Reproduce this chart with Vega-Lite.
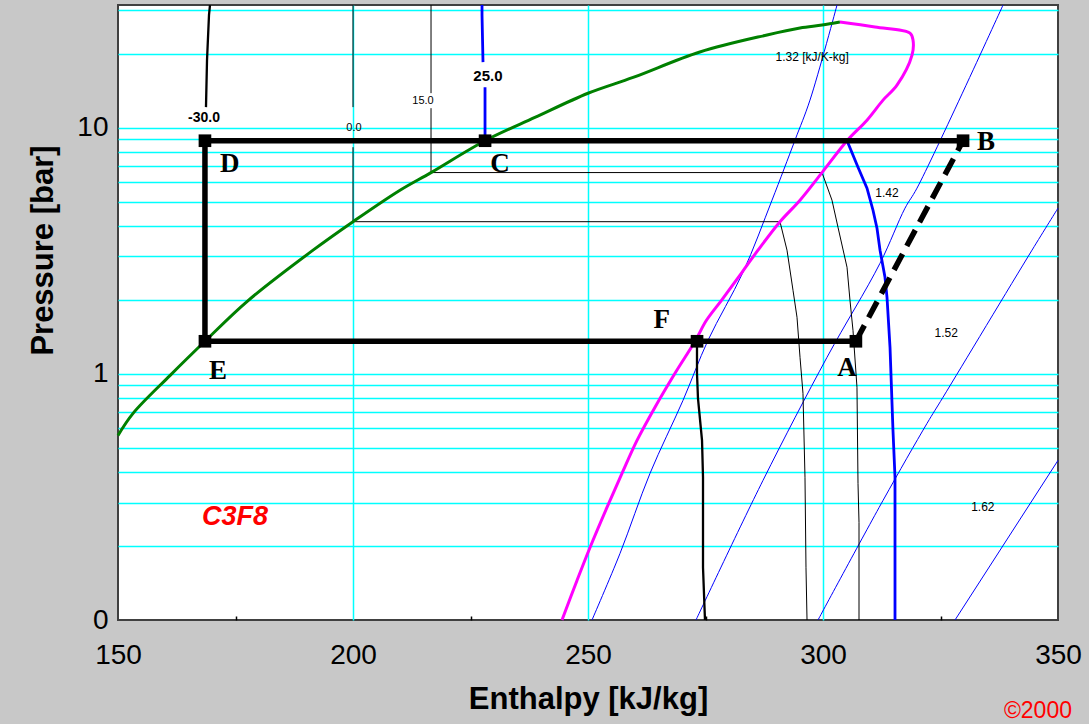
{
  "$schema": "https://vega.github.io/schema/vega-lite/v6.json",
  "width": 940,
  "height": 615,
  "autosize": {"type": "none"},
  "padding": {"left": 118, "top": 5, "right": 31, "bottom": 104},
  "background": "#c8c8c8",
  "config": {
    "view": {"fill": "white", "stroke": "#404040", "strokeWidth": 2},
    "font": "Liberation Sans"
  },
  "datasets": {
    "curves": [
      {"s": "sat_liq", "i": 0, "h": 150, "p": 0.562},
      {"s": "sat_liq", "i": 1, "h": 153.2, "p": 0.691},
      {"s": "sat_liq", "i": 2, "h": 161.1, "p": 0.986},
      {"s": "sat_liq", "i": 3, "h": 168.5, "p": 1.356},
      {"s": "sat_liq", "i": 4, "h": 177.5, "p": 1.971},
      {"s": "sat_liq", "i": 5, "h": 191.5, "p": 3.18},
      {"s": "sat_liq", "i": 6, "h": 200, "p": 4.15},
      {"s": "sat_liq", "i": 7, "h": 210, "p": 5.57},
      {"s": "sat_liq", "i": 8, "h": 216.6, "p": 6.57},
      {"s": "sat_liq", "i": 9, "h": 228.1, "p": 8.85},
      {"s": "sat_liq", "i": 10, "h": 238.7, "p": 11.0},
      {"s": "sat_liq", "i": 11, "h": 250, "p": 13.8},
      {"s": "sat_liq", "i": 12, "h": 259.6, "p": 16.0},
      {"s": "sat_liq", "i": 13, "h": 273.8, "p": 20.3},
      {"s": "sat_liq", "i": 14, "h": 288.1, "p": 23.8},
      {"s": "sat_liq", "i": 15, "h": 295.1, "p": 25.4},
      {"s": "sat_liq", "i": 16, "h": 299.8, "p": 26.1},
      {"s": "sat_liq", "i": 17, "h": 303.6, "p": 26.85},

      {"s": "sat_vap", "i": 0, "h": 303.6, "p": 26.85},
      {"s": "sat_vap", "i": 1, "h": 311.06, "p": 25.62},
      {"s": "sat_vap", "i": 2, "h": 318.51, "p": 24.22},
      {"s": "sat_vap", "i": 3, "h": 319.15, "p": 22.68},
      {"s": "sat_vap", "i": 4, "h": 318.94, "p": 19.71},
      {"s": "sat_vap", "i": 5, "h": 315.74, "p": 14.89},
      {"s": "sat_vap", "i": 6, "h": 312.77, "p": 12.94},
      {"s": "sat_vap", "i": 7, "h": 309.36, "p": 10.73},
      {"s": "sat_vap", "i": 8, "h": 305.11, "p": 8.85},
      {"s": "sat_vap", "i": 9, "h": 299.79, "p": 6.57},
      {"s": "sat_vap", "i": 10, "h": 295.11, "p": 5.075},
      {"s": "sat_vap", "i": 11, "h": 290.85, "p": 4.15},
      {"s": "sat_vap", "i": 12, "h": 286.17, "p": 3.18},
      {"s": "sat_vap", "i": 13, "h": 282.77, "p": 2.586},
      {"s": "sat_vap", "i": 14, "h": 278.4, "p": 1.99},
      {"s": "sat_vap", "i": 15, "h": 275.2, "p": 1.65},
      {"s": "sat_vap", "i": 16, "h": 272.77, "p": 1.356},
      {"s": "sat_vap", "i": 17, "h": 268.51, "p": 1.005},
      {"s": "sat_vap", "i": 18, "h": 264.26, "p": 0.732},
      {"s": "sat_vap", "i": 19, "h": 260.43, "p": 0.5366},
      {"s": "sat_vap", "i": 20, "h": 257.23, "p": 0.394},
      {"s": "sat_vap", "i": 21, "h": 254.04, "p": 0.2866},
      {"s": "sat_vap", "i": 22, "h": 250.43, "p": 0.197},
      {"s": "sat_vap", "i": 23, "h": 247.66, "p": 0.1447},
      {"s": "sat_vap", "i": 24, "h": 244.47, "p": 0.1},

      {"s": "s1", "i": 0, "h": 250.85, "p": 0.1},
      {"s": "s1", "i": 1, "h": 256.81, "p": 0.1864},
      {"s": "s1", "i": 2, "h": 263.19, "p": 0.394},
      {"s": "s1", "i": 3, "h": 270.21, "p": 0.78},
      {"s": "s1", "i": 4, "h": 275.53, "p": 1.368},
      {"s": "s1", "i": 5, "h": 282.98, "p": 2.586},
      {"s": "s1", "i": 6, "h": 289.15, "p": 5.075},
      {"s": "s1", "i": 7, "h": 294.04, "p": 8.9},
      {"s": "s1", "i": 8, "h": 297.23, "p": 12.94},
      {"s": "s1", "i": 9, "h": 302.98, "p": 31.47},

      {"s": "s2", "i": 0, "h": 272.98, "p": 0.1},
      {"s": "s2", "i": 1, "h": 287.23, "p": 0.369},
      {"s": "s2", "i": 2, "h": 300.85, "p": 1.167},
      {"s": "s2", "i": 3, "h": 312.13, "p": 2.813},
      {"s": "s2", "i": 4, "h": 317.45, "p": 4.71},
      {"s": "s2", "i": 5, "h": 320.0, "p": 5.68},
      {"s": "s2", "i": 6, "h": 338.3, "p": 31.47},

      {"s": "s3", "i": 0, "h": 298.94, "p": 0.1},
      {"s": "s3", "i": 1, "h": 312.77, "p": 0.306},
      {"s": "s3", "i": 2, "h": 322.13, "p": 0.629},
      {"s": "s3", "i": 3, "h": 325.53, "p": 0.803},
      {"s": "s3", "i": 4, "h": 344.47, "p": 3.18},
      {"s": "s3", "i": 5, "h": 350, "p": 4.71},

      {"s": "s4", "i": 0, "h": 328.09, "p": 0.1},
      {"s": "s4", "i": 1, "h": 350, "p": 0.445},

      {"s": "t0a", "i": 0, "h": 200, "p": 31.47},
      {"s": "t0a", "i": 1, "h": 200, "p": 12.12},
      {"s": "t0b", "i": 0, "h": 200, "p": 8.33},
      {"s": "t0b", "i": 1, "h": 200, "p": 4.15},
      {"s": "t0b", "i": 2, "h": 290.85, "p": 4.15},
      {"s": "t0b", "i": 3, "h": 292.34, "p": 3.18},
      {"s": "t0b", "i": 4, "h": 293.62, "p": 2.185},
      {"s": "t0b", "i": 5, "h": 294.47, "p": 1.697},
      {"s": "t0b", "i": 6, "h": 295.11, "p": 1.167},
      {"s": "t0b", "i": 7, "h": 295.74, "p": 0.833},
      {"s": "t0b", "i": 8, "h": 296.17, "p": 0.38},
      {"s": "t0b", "i": 9, "h": 296.38, "p": 0.163},
      {"s": "t0b", "i": 10, "h": 296.6, "p": 0.1},

      {"s": "t15a", "i": 0, "h": 216.6, "p": 31.47},
      {"s": "t15a", "i": 1, "h": 216.6, "p": 13.81},
      {"s": "t15b", "i": 0, "h": 216.6, "p": 12.0},
      {"s": "t15b", "i": 1, "h": 216.6, "p": 6.57},
      {"s": "t15b", "i": 2, "h": 299.79, "p": 6.57},
      {"s": "t15b", "i": 3, "h": 301.91, "p": 5.075},
      {"s": "t15b", "i": 4, "h": 303.19, "p": 3.94},
      {"s": "t15b", "i": 5, "h": 305.11, "p": 2.71},
      {"s": "t15b", "i": 6, "h": 305.74, "p": 1.99},
      {"s": "t15b", "i": 7, "h": 306.38, "p": 1.502},
      {"s": "t15b", "i": 8, "h": 307.23, "p": 0.882},
      {"s": "t15b", "i": 9, "h": 307.45, "p": 0.359},
      {"s": "t15b", "i": 10, "h": 307.66, "p": 0.249},
      {"s": "t15b", "i": 11, "h": 307.66, "p": 0.1},

      {"s": "t25a", "i": 0, "h": 227.45, "p": 31.47},
      {"s": "t25a", "i": 1, "h": 227.45, "p": 28.66},
      {"s": "t25a", "i": 2, "h": 227.66, "p": 18.46},
      {"s": "t25b", "i": 0, "h": 228.09, "p": 14.61},
      {"s": "t25b", "i": 1, "h": 228.09, "p": 8.85},
      {"s": "t25b", "i": 2, "h": 305.11, "p": 8.85},
      {"s": "t25b", "i": 3, "h": 307.45, "p": 6.91},
      {"s": "t25b", "i": 4, "h": 309.36, "p": 5.68},
      {"s": "t25b", "i": 5, "h": 310.64, "p": 4.62},
      {"s": "t25b", "i": 6, "h": 311.49, "p": 3.905},
      {"s": "t25b", "i": 7, "h": 312.13, "p": 3.18},
      {"s": "t25b", "i": 8, "h": 313.19, "p": 2.468},
      {"s": "t25b", "i": 9, "h": 313.62, "p": 2.046},
      {"s": "t25b", "i": 10, "h": 314.26, "p": 1.281},
      {"s": "t25b", "i": 11, "h": 314.89, "p": 0.589},
      {"s": "t25b", "i": 12, "h": 315.32, "p": 0.38},
      {"s": "t25b", "i": 13, "h": 315.32, "p": 0.1},

      {"s": "tm30a", "i": 0, "h": 169.57, "p": 31.47},
      {"s": "tm30a", "i": 1, "h": 169.36, "p": 28.66},
      {"s": "tm30a", "i": 2, "h": 168.94, "p": 18.81},
      {"s": "tm30a", "i": 3, "h": 168.72, "p": 12.12},
      {"s": "tm30b", "i": 0, "h": 273.19, "p": 1.356},
      {"s": "tm30b", "i": 1, "h": 273.19, "p": 1.005},
      {"s": "tm30b", "i": 2, "h": 273.4, "p": 0.795},
      {"s": "tm30b", "i": 3, "h": 274.26, "p": 0.5366},
      {"s": "tm30b", "i": 4, "h": 274.47, "p": 0.3796},
      {"s": "tm30b", "i": 5, "h": 274.47, "p": 0.1634},
      {"s": "tm30b", "i": 6, "h": 274.89, "p": 0.1},

      {"s": "cycle", "i": 0, "h": 329.8, "p": 8.85},
      {"s": "cycle", "i": 1, "h": 168.5, "p": 8.85},
      {"s": "cycle", "i": 2, "h": 168.5, "p": 1.356},
      {"s": "cycle", "i": 3, "h": 307.0, "p": 1.356},

      {"s": "compress", "i": 0, "h": 307.0, "p": 1.356},
      {"s": "compress", "i": 1, "h": 329.8, "p": 8.85}
    ],
    "states": [
      {"t": "D", "h": 168.5, "p": 8.85, "lh": 173.8, "lp": 7.11},
      {"t": "C", "h": 228.1, "p": 8.85, "lh": 231.3, "lp": 7.11},
      {"t": "B", "h": 329.8, "p": 8.85, "lh": 334.7, "lp": 8.73},
      {"t": "A", "h": 307.0, "p": 1.356, "lh": 305.1, "lp": 1.053},
      {"t": "E", "h": 168.5, "p": 1.356, "lh": 171.3, "lp": 1.024},
      {"t": "F", "h": 273.2, "p": 1.356, "lh": 265.7, "lp": 1.65}
    ]
  },
  "encoding": {
    "x": {
      "field": "h",
      "type": "quantitative",
      "scale": {"type": "linear", "domain": [150, 350], "nice": false, "zero": false},
      "axis": {
        "title": "Enthalpy [kJ/kg]",
        "values": [150, 175, 200, 225, 250, 275, 300, 325, 350],
        "format": "d",
        "labelExpr": "datum.value % 50 === 0 ? datum.label : ''",
        "labelFlush": false,
        "labelOverlap": false,
        "labelBound": false,
        "labelFont": "Liberation Sans",
        "labelFontSize": 28,
        "labelColor": "black",
        "labelBaseline": "alphabetic",
        "labelPadding": 47,
        "ticks": true,
        "tickSize": -4,
        "tickColor": "black",
        "tickWidth": 1.5,
        "tickOpacity": {"condition": {"test": "datum.value % 50 !== 0", "value": 1}, "value": 0},
        "domain": false,
        "grid": true,
        "gridColor": "#00ffff",
        "gridWidth": 1.5,
        "gridOpacity": {"condition": {"test": "datum.value % 50 === 0 && datum.value > 150 && datum.value < 350", "value": 1}, "value": 0},
        "titleFont": "Liberation Sans",
        "titleFontSize": 31,
        "titleFontWeight": "bold",
        "titleColor": "black",
        "titleBaseline": "alphabetic",
        "titleAlign": "center",
        "titleX": 470,
        "titleY": 88
      }
    },
    "y": {
      "field": "p",
      "type": "quantitative",
      "scale": {"type": "log", "domain": [0.1, 31.5], "nice": false},
      "axis": {
        "title": "Pressure [bar]",
        "values": [0.1, 0.2, 0.3, 0.4, 0.5, 0.6, 0.7, 0.8, 0.9, 1, 2, 3, 4, 5, 6, 7, 8, 9, 10, 20, 30],
        "labelExpr": "datum.value === 0.1 ? '0' : datum.value === 1 ? '1' : datum.value === 10 ? '10' : ''",
        "labelFlush": false,
        "labelOverlap": false,
        "labelBound": false,
        "labelFont": "Liberation Sans",
        "labelFontSize": 28,
        "labelColor": "black",
        "labelPadding": 10,
        "ticks": false,
        "domain": false,
        "grid": true,
        "gridColor": "#00ffff",
        "gridWidth": 1.5,
        "gridOpacity": {"condition": {"test": "datum.value > 0.15", "value": 1}, "value": 0},
        "titleFont": "Liberation Sans",
        "titleFontSize": 31,
        "titleFontWeight": "bold",
        "titleColor": "black",
        "titleAngle": 270,
        "titleBaseline": "alphabetic",
        "titleAlign": "center",
        "titleX": -66,
        "titleY": 245
      }
    }
  },
  "layer": [
    {
      "data": {"name": "curves"},
      "transform": [{"filter": {"field": "s", "oneOf": ["s1", "s2", "s3", "s4"]}}],
      "mark": {"type": "line", "color": "#0000ff", "strokeWidth": 1, "interpolate": "catmull-rom"},
      "encoding": {"detail": {"field": "s"}, "order": {"field": "i", "type": "quantitative"}}
    },
    {
      "data": {"name": "curves"},
      "transform": [{"filter": {"field": "s", "oneOf": ["t0a", "t0b", "t15a", "t15b"]}}],
      "mark": {"type": "line", "color": "#000000", "strokeWidth": 1},
      "encoding": {"detail": {"field": "s"}, "order": {"field": "i", "type": "quantitative"}}
    },
    {
      "data": {"name": "curves"},
      "transform": [{"filter": {"field": "s", "oneOf": ["tm30a", "tm30b"]}}],
      "mark": {"type": "line", "color": "#000000", "strokeWidth": 2.3},
      "encoding": {"detail": {"field": "s"}, "order": {"field": "i", "type": "quantitative"}}
    },
    {
      "data": {"name": "curves"},
      "transform": [{"filter": {"field": "s", "oneOf": ["t25a", "t25b"]}}],
      "mark": {"type": "line", "color": "#0000ff", "strokeWidth": 2.8},
      "encoding": {"detail": {"field": "s"}, "order": {"field": "i", "type": "quantitative"}}
    },
    {
      "data": {"name": "curves"},
      "transform": [{"filter": {"field": "s", "equal": "sat_liq"}}],
      "mark": {"type": "line", "color": "#008000", "strokeWidth": 3, "interpolate": "catmull-rom"},
      "encoding": {"order": {"field": "i", "type": "quantitative"}}
    },
    {
      "data": {"name": "curves"},
      "transform": [{"filter": {"field": "s", "equal": "sat_vap"}}],
      "mark": {"type": "line", "color": "#ff00ff", "strokeWidth": 3, "interpolate": "catmull-rom"},
      "encoding": {"order": {"field": "i", "type": "quantitative"}}
    },
    {
      "data": {"name": "curves"},
      "transform": [{"filter": {"field": "s", "equal": "cycle"}}],
      "mark": {"type": "line", "color": "#000000", "strokeWidth": 5.5, "strokeJoin": "miter"},
      "encoding": {"order": {"field": "i", "type": "quantitative"}}
    },
    {
      "data": {"name": "curves"},
      "transform": [{"filter": {"field": "s", "equal": "compress"}}],
      "mark": {"type": "line", "color": "#000000", "strokeWidth": 5.5, "strokeDash": [18, 9]},
      "encoding": {"order": {"field": "i", "type": "quantitative"}}
    },
    {
      "data": {"name": "states"},
      "mark": {"type": "point", "shape": "square", "filled": true, "size": 160, "color": "#000000", "opacity": 1},
      "encoding": {}
    },
    {
      "data": {"name": "states"},
      "mark": {"type": "text", "font": "Liberation Serif", "fontWeight": "bold", "fontSize": 27, "color": "#000000", "align": "center", "baseline": "middle"},
      "encoding": {
        "x": {"field": "lh", "type": "quantitative"},
        "y": {"field": "lp", "type": "quantitative"},
        "text": {"field": "t"}
      }
    },
    {
      "data": {"values": [{"t": "-30.0", "h": 168.3, "p": 10.93}]},
      "mark": {"type": "text", "font": "Liberation Sans", "fontWeight": "bold", "fontSize": 14, "color": "#000000", "align": "center", "baseline": "middle"},
      "encoding": {"text": {"field": "t"}}
    },
    {
      "data": {"values": [{"t": "25.0", "h": 228.7, "p": 16.19}]},
      "mark": {"type": "text", "font": "Liberation Sans", "fontWeight": "bold", "fontSize": 15, "color": "#000000", "align": "center", "baseline": "middle"},
      "encoding": {"text": {"field": "t"}}
    },
    {
      "data": {"values": [{"t": "0.0", "h": 200.2, "p": 9.95}, {"t": "15.0", "h": 214.9, "p": 12.82}]},
      "mark": {"type": "text", "font": "Liberation Sans", "fontSize": 11, "color": "#000000", "align": "center", "baseline": "middle"},
      "encoding": {"text": {"field": "t"}}
    },
    {
      "data": {"values": [
        {"t": "1.32 [kJ/K-kg]", "h": 297.7, "p": 19.35},
        {"t": "1.42", "h": 313.6, "p": 5.42},
        {"t": "1.52", "h": 326.2, "p": 1.461},
        {"t": "1.62", "h": 334.0, "p": 0.2867}
      ]},
      "mark": {"type": "text", "font": "Liberation Sans", "fontSize": 12, "color": "#000000", "align": "center", "baseline": "middle"},
      "encoding": {"text": {"field": "t"}}
    },
    {
      "data": {"values": [{"t": "C3F8", "h": 174.9, "p": 0.261}]},
      "mark": {"type": "text", "font": "Liberation Sans", "fontWeight": "bold", "fontStyle": "italic", "fontSize": 27, "color": "#ff0000", "align": "center", "baseline": "middle"},
      "encoding": {"text": {"field": "t"}}
    },
    {
      "data": {"values": [{"t": "©2000", "h": 352.98, "p": 0.0398}]},
      "mark": {"type": "text", "font": "Liberation Sans", "fontSize": 23, "color": "#ff0000", "align": "right", "baseline": "alphabetic"},
      "encoding": {"text": {"field": "t"}}
    }
  ]
}
